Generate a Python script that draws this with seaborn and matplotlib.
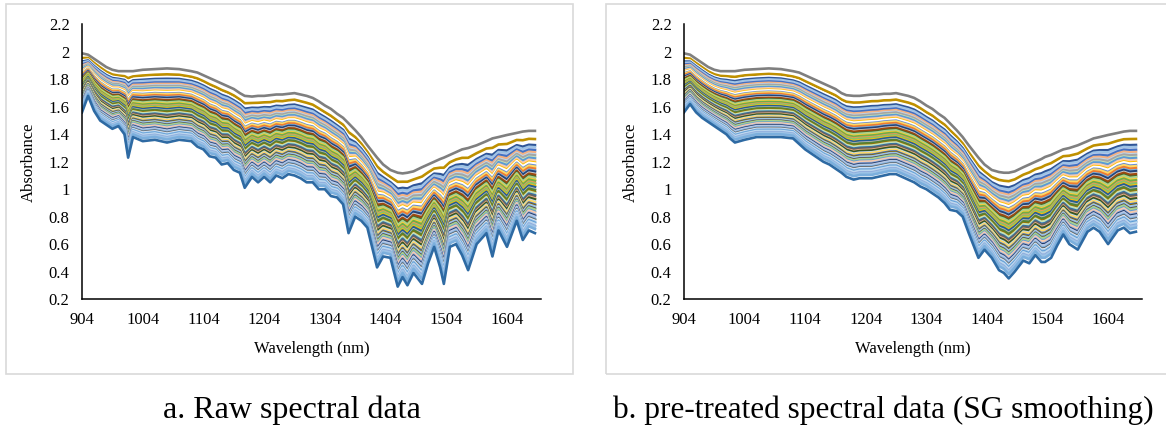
import numpy as np
import pandas as pd
import seaborn as sns
import matplotlib
matplotlib.use("Agg")
from matplotlib import pyplot as plt
from matplotlib.patches import Rectangle
from matplotlib.ticker import FuncFormatter

wavelength = [904, 914, 924, 934, 944, 954, 964, 974, 980, 988,
              1004, 1024, 1044, 1064, 1084, 1094, 1104, 1114, 1124, 1134,
              1144, 1154, 1164, 1172, 1184, 1194, 1204, 1214, 1224, 1234,
              1244, 1254, 1264, 1274, 1284, 1294, 1304, 1314, 1324, 1334,
              1343, 1354, 1364, 1374, 1390, 1400, 1412, 1424, 1432, 1440,
              1450, 1464, 1474, 1484, 1494, 1500, 1510, 1520, 1530, 1540,
              1554, 1570, 1580, 1590, 1604, 1620, 1630, 1640, 1650]

# raw spectra: highest (grey) and lowest (dark blue) sample
raw_top = [1.99, 1.98, 1.95, 1.92, 1.89, 1.87, 1.86, 1.86, 1.86, 1.86,
           1.87, 1.875, 1.88, 1.875, 1.86, 1.85, 1.83, 1.81, 1.79, 1.77,
           1.75, 1.73, 1.70, 1.68, 1.675, 1.68, 1.68, 1.685, 1.69, 1.69,
           1.695, 1.70, 1.69, 1.68, 1.665, 1.64, 1.61, 1.585, 1.55, 1.52,
           1.48, 1.43, 1.38, 1.32, 1.23, 1.18, 1.14, 1.12, 1.115, 1.12,
           1.13, 1.16, 1.18, 1.20, 1.22, 1.23, 1.25, 1.27, 1.29, 1.30,
           1.32, 1.35, 1.37, 1.38, 1.395, 1.41, 1.42, 1.425, 1.425]
raw_bottom = [1.56, 1.68, 1.57, 1.50, 1.47, 1.44, 1.46, 1.40, 1.23, 1.38,
              1.35, 1.36, 1.34, 1.36, 1.35, 1.31, 1.29, 1.24, 1.23, 1.18,
              1.19, 1.14, 1.12, 1.01, 1.09, 1.05, 1.09, 1.05, 1.10, 1.08,
              1.11, 1.10, 1.08, 1.05, 1.05, 1.00, 1.00, 0.95, 0.94, 0.89,
              0.68, 0.80, 0.77, 0.72, 0.43, 0.51, 0.50, 0.29, 0.36, 0.30,
              0.39, 0.31, 0.46, 0.58, 0.43, 0.31, 0.58, 0.60, 0.52, 0.41,
              0.60, 0.68, 0.51, 0.70, 0.58, 0.77, 0.63, 0.70, 0.68]

# SG smoothed spectra
sg_top = [1.99, 1.98, 1.95, 1.92, 1.89, 1.87, 1.86, 1.86, 1.86, 1.86,
          1.87, 1.875, 1.88, 1.875, 1.86, 1.85, 1.83, 1.81, 1.79, 1.77,
          1.75, 1.73, 1.70, 1.685, 1.68, 1.68, 1.685, 1.69, 1.69, 1.695,
          1.695, 1.70, 1.69, 1.68, 1.665, 1.64, 1.61, 1.585, 1.55, 1.52,
          1.48, 1.43, 1.38, 1.32, 1.23, 1.18, 1.14, 1.125, 1.12, 1.12,
          1.13, 1.16, 1.18, 1.20, 1.22, 1.235, 1.25, 1.27, 1.29, 1.30,
          1.32, 1.35, 1.37, 1.38, 1.395, 1.41, 1.42, 1.425, 1.425]
sg_bottom = [1.56, 1.62, 1.56, 1.52, 1.49, 1.46, 1.43, 1.40, 1.37, 1.34,
             1.36, 1.38, 1.38, 1.38, 1.37, 1.33, 1.29, 1.26, 1.23, 1.20,
             1.18, 1.15, 1.12, 1.09, 1.07, 1.08, 1.08, 1.08, 1.09, 1.10,
             1.11, 1.11, 1.09, 1.07, 1.05, 1.02, 1.00, 0.97, 0.94, 0.90,
             0.85, 0.84, 0.80, 0.68, 0.50, 0.56, 0.50, 0.41, 0.39, 0.35,
             0.40, 0.48, 0.46, 0.52, 0.47, 0.47, 0.50, 0.59, 0.67, 0.60,
             0.56, 0.69, 0.72, 0.69, 0.60, 0.70, 0.72, 0.68, 0.69]

# where each sample sits between the top (0) and bottom (1) curve
levels = [0.00, 0.08, 0.12, 0.14, 0.16, 0.18, 0.19, 0.21, 0.23, 0.24,
          0.26, 0.27, 0.29, 0.31, 0.32, 0.34, 0.35, 0.37, 0.39, 0.40,
          0.42, 0.43, 0.45, 0.46, 0.48, 0.49, 0.51, 0.52, 0.54, 0.55,
          0.57, 0.58, 0.60, 0.61, 0.63, 0.64, 0.66, 0.67, 0.69, 0.70,
          0.72, 0.73, 0.74, 0.76, 0.77, 0.79, 0.80, 0.82, 0.83, 0.84,
          0.86, 0.87, 0.88, 0.89, 0.90, 0.91, 0.93, 0.94, 0.96, 1.00]

# office-style series colours, ordered top sample -> bottom sample
colors = ["#7f7f7f", "#bf9000", "#ffffff", "#2f5597", "#9dc3e6", "#b4c7e7",
          "#4472c4", "#f4b183", "#bdd7ee", "#a5a5a5", "#c5e0b4", "#5b9bd5",
          "#f8cbad", "#ffc000", "#ffffff", "#698ed0", "#ffd966", "#ed7d31",
          "#7cafdd", "#264478", "#c9c9c9", "#9e480e", "#43682b", "#a9d18e",
          "#ffcd33", "#70ad47", "#f1975a", "#8cc168", "#ffc000", "#255e91",
          "#b7b7b7", "#548235", "#997300", "#c5e0b4", "#2e75b6", "#636363",
          "#f4b183", "#385723", "#bdd7ee", "#ffd966", "#4472c4", "#7f6000",
          "#9dc3e6", "#525252", "#a9d18e", "#5b9bd5", "#f8cbad", "#8faadc",
          "#203864", "#b4c7e7", "#7cafdd", "#636363", "#deebf7", "#9dc3e6",
          "#5b9bd5", "#bdd7ee", "#8faadc", "#9dc3e6", "#7cafdd", "#2e6aa3"]


def build_frame(top, bottom):
    top = np.array(top)
    bottom = np.array(bottom)
    rows = []
    for i, f in enumerate(levels):
        vals = top + f * (bottom - top)
        rows.append(pd.DataFrame({"wavelength": wavelength,
                                  "absorbance": vals,
                                  "sample": i}))
    return pd.concat(rows, ignore_index=True)


plt.rcParams["font.family"] = ["Liberation Serif", "DejaVu Serif"]

fig = plt.figure(figsize=(11.66, 4.33), dpi=100)

# light grey frames round each panel
fig.patches.append(Rectangle((6 / 1166, 59 / 433), 567 / 1166, 370 / 433,
                             transform=fig.transFigure, fill=False,
                             edgecolor="#d9d9d9", linewidth=1.2))
fig.patches.append(Rectangle((606 / 1166, 59 / 433), 600 / 1166, 370 / 433,
                             transform=fig.transFigure, fill=False,
                             edgecolor="#d9d9d9", linewidth=1.2))

ax1 = fig.add_axes([82 / 1166, 134 / 433, 459 / 1166, 274.5 / 433])
ax2 = fig.add_axes([684 / 1166, 134 / 433, 458 / 1166, 274.5 / 433])

for ax, (top, bottom) in zip([ax1, ax2], [(raw_top, raw_bottom), (sg_top, sg_bottom)]):
    df = build_frame(top, bottom)
    sns.lineplot(data=df, x="wavelength", y="absorbance", hue="sample",
                 palette=colors, legend=False, sort=False, linewidth=1.9,
                 ax=ax)
    ax.set_xlim(904, 1660)
    ax.set_ylim(0.2, 2.2)
    ax.set_xticks([904, 1004, 1104, 1204, 1304, 1404, 1504, 1604])
    ax.set_yticks([0.2, 0.4, 0.6, 0.8, 1.0, 1.2, 1.4, 1.6, 1.8, 2.0, 2.2])
    ax.yaxis.set_major_formatter(FuncFormatter(lambda v, p: "%g" % round(v, 1)))
    ax.tick_params(axis="both", length=0, labelsize=12)
    ax.tick_params(axis="x", pad=9)
    ax.tick_params(axis="y", pad=9)
    for s in ["top", "right"]:
        ax.spines[s].set_visible(False)
    for s in ["left", "bottom"]:
        ax.spines[s].set_color("black")
        ax.spines[s].set_linewidth(1.1)
    ax.set_xlabel("Wavelength (nm)", fontsize=12, va="center")
    ax.set_ylabel("Absorbance", fontsize=12, va="center", ha="center")
    ax.xaxis.set_label_coords(0.5, -50 / 274.5)
    ax.yaxis.set_label_coords(-53 / 459, 0.5)

fig.text(292 / 1166, 23 / 433, "a. Raw spectral data", fontsize=23,
         ha="center", va="center")
fig.text(613 / 1166, 23 / 433, "b. pre-treated spectral data (SG smoothing)",
         fontsize=22.5, ha="left", va="center")

fig.savefig("out.png", dpi=100)
